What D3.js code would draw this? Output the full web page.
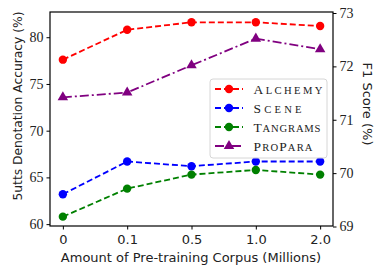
<!DOCTYPE html>
<html><head><meta charset="utf-8">
<script src="https://cdn.jsdelivr.net/npm/d3@7"></script>
<style>body{margin:0;background:#fff}svg{display:block}</style>
</head><body>
<svg id="c" width="374" height="271"></svg>
<script>
const categories = ["0", "0.1", "0.5", "1.0", "2.0"];
const alchemy = [77.6, 80.8, 81.6, 81.6, 81.2];
const scene = [63.2, 66.7, 66.2, 66.7, 66.7];
const tangrams = [60.8, 63.8, 65.3, 65.8, 65.3];
const propara = [71.42, 71.51, 72.02, 72.52, 72.32];
const leftTicks = [60, 65, 70, 75, 80];
const rightTicks = [69, 70, 71, 72, 73];
const seriesNames = ["Alchemy", "Scene", "Tangrams", "ProPara"];

const svg = d3.select("#c");
const L = 50, R = 333, T = 12, B = 226;
const x = d3.scalePoint().domain(categories).range([L, R]).padding(0.2);
const yL = d3.scaleLinear().domain([59.8, 82.7]).range([B, T]);
const yR = d3.scaleLinear().domain([69, 73]).range([226.5, 13]);

const sans = "'DejaVu Sans', sans-serif";
const serif = "'Liberation Serif', serif";

// axes
const gx = svg.append("g").attr("transform", `translate(0,${B})`)
  .call(d3.axisBottom(x).tickSize(3.5).tickPadding(3));
const gl = svg.append("g").attr("transform", `translate(${L},0)`)
  .call(d3.axisLeft(yL).tickValues(leftTicks).tickSize(3.5).tickPadding(3));
const gr = svg.append("g").attr("transform", `translate(${R},0)`)
  .call(d3.axisRight(yR).tickValues(rightTicks).tickFormat(d3.format("d")).tickSize(3.5).tickPadding(3));
[gx, gl, gr].forEach(g => {
  g.select(".domain").remove();
  g.selectAll("text").attr("font-family", serif).attr("font-size", 14).attr("fill", "#222");
  g.selectAll("line").attr("stroke", "#000");
});
gx.selectAll("text").attr("font-family", sans).attr("font-size", 13).attr("dy", "0.9em");

svg.append("rect").attr("x", L).attr("y", T).attr("width", R - L).attr("height", B - T)
  .attr("fill", "none").attr("stroke", "#000").attr("stroke-width", 1.2);

// series
const defs = [
  {vals: alchemy, y: yL, color: "#ff0000", dash: "6,3", marker: "circle"},
  {vals: scene, y: yL, color: "#0000ff", dash: "6,3", marker: "circle"},
  {vals: tangrams, y: yL, color: "#008000", dash: "6,3", marker: "circle"},
  {vals: propara, y: yR, color: "#800080", dash: "9,3,2,3", marker: "triangle"}
];
const tri = d3.symbol().type(d3.symbolTriangle).size(48);
defs.forEach(s => {
  const line = d3.line().x((d, i) => x(categories[i])).y(d => s.y(d));
  svg.append("path").datum(s.vals).attr("d", line).attr("fill", "none")
    .attr("stroke", s.color).attr("stroke-width", 1.8).attr("stroke-dasharray", s.dash);
  s.vals.forEach((v, i) => {
    if (s.marker === "circle")
      svg.append("circle").attr("cx", x(categories[i])).attr("cy", s.y(v)).attr("r", 4.2).attr("fill", s.color);
    else
      svg.append("path").attr("d", tri).attr("transform", `translate(${x(categories[i])},${s.y(v)})`).attr("fill", s.color);
  });
});

// legend
const legendWidths = [69, 48, 67, 59];
const lg = svg.append("g");
lg.append("rect").attr("x", 210).attr("y", 79).attr("width", 117).attr("height", 79).attr("rx", 3)
  .attr("fill", "#fff").attr("fill-opacity", 0.85).attr("stroke", "#d6d6d6");
defs.forEach((s, i) => {
  const yy = 89 + i * 19;
  lg.append("line").attr("x1", 215).attr("x2", 243).attr("y1", yy).attr("y2", yy)
    .attr("stroke", s.color).attr("stroke-width", 1.8).attr("stroke-dasharray", s.dash);
  if (s.marker === "circle")
    lg.append("circle").attr("cx", 229).attr("cy", yy).attr("r", 4.2).attr("fill", s.color);
  else
    lg.append("path").attr("d", tri).attr("transform", `translate(229,${yy})`).attr("fill", s.color);
  const t = lg.append("text").attr("x", 253.5).attr("y", yy + 4.5)
    .attr("font-family", serif).attr("fill", "#222")
    .attr("textLength", legendWidths[i]).attr("lengthAdjust", "spacing");
  const name = seriesNames[i];
  let buf = "", bufLower = null;
  const flush = () => {
    if (!buf) return;
    t.append("tspan").attr("font-size", bufLower ? 10.6 : 13.5).text(bufLower ? buf.toUpperCase() : buf);
    buf = "";
  };
  for (const ch of name) {
    const lower = ch === ch.toLowerCase();
    if (bufLower !== null && lower !== bufLower) flush();
    bufLower = lower;
    buf += ch;
  }
  flush();
});

// labels
svg.append("text").attr("x", 191).attr("y", 262).attr("text-anchor", "middle")
  .attr("font-family", sans).attr("font-size", 13).attr("fill", "#222")
  .text("Amount of Pre-training Corpus (Millions)");
svg.append("text").attr("transform", "translate(22,106) rotate(-90)").attr("text-anchor", "middle")
  .attr("font-family", sans).attr("font-size", 12.3).attr("fill", "#222")
  .text("5utts Denotation Accuracy (%)");
svg.append("text").attr("transform", "translate(363,104) rotate(90)").attr("text-anchor", "middle")
  .attr("font-family", sans).attr("font-size", 13).attr("fill", "#222")
  .text("F1 Score (%)");
</script>
</body></html>
